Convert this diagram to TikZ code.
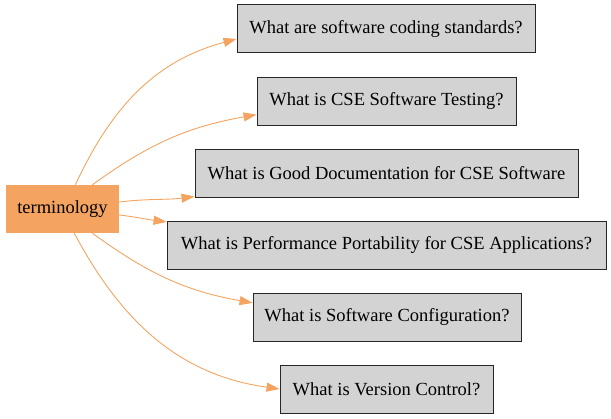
\documentclass[tikz,border=0pt]{standalone}
\usepackage{fontspec}
\setmainfont{Liberation Serif}
\usetikzlibrary{arrows.meta}
\definecolor{sandy}{HTML}{F4A460}
\definecolor{qgray}{HTML}{D3D3D3}
\begin{document}
\begin{tikzpicture}[x=1pt, y=-1pt,
    topic/.style={fill=sandy, minimum width=113pt, minimum height=48pt, inner sep=0pt, font=\fontsize{18.5}{20}\selectfont},
    question/.style={draw=black!85, fill=qgray, line width=0.9pt, minimum height=48pt, inner sep=0pt, font=\fontsize{18.5}{20}\selectfont},
    link/.style={draw=sandy, line width=0.9pt, -{Triangle[length=13pt,width=9pt]}}]
        \useasboundingbox (0,0) rectangle (611,419);
        \node[topic] (term) at (62.5,209) {terminology};
        \node[question, minimum width=298pt] (q1) at (386,28.5) {What are software coding standards?};
        \node[question, minimum width=259pt] (q2) at (386.5,101) {What is CSE Software Testing?};
        \node[question, minimum width=383pt] (q3) at (386.5,173) {What is Good Documentation for CSE Software};
        \node[question, minimum width=439pt] (q4) at (386.5,245) {What is Performance Portability for CSE Applications?};
        \node[question, minimum width=268pt] (q5) at (387,317) {What is Software Configuration?};
        \node[question, minimum width=213pt] (q6) at (386.5,389) {What is Version Control?};
        \foreach \a/\t/\o/\i in {62/q1.184/65/195, 39/q2.186/36/190, 7/q3.187/7/187,
            -6/q4.174/-7/173, -39/q5.174/-36/170, -64/q6.west/-62/172} {
            \draw[link] (term.\a) to[out=\o, in=\i] (\t);
        }
    \end{tikzpicture}
\end{document}
